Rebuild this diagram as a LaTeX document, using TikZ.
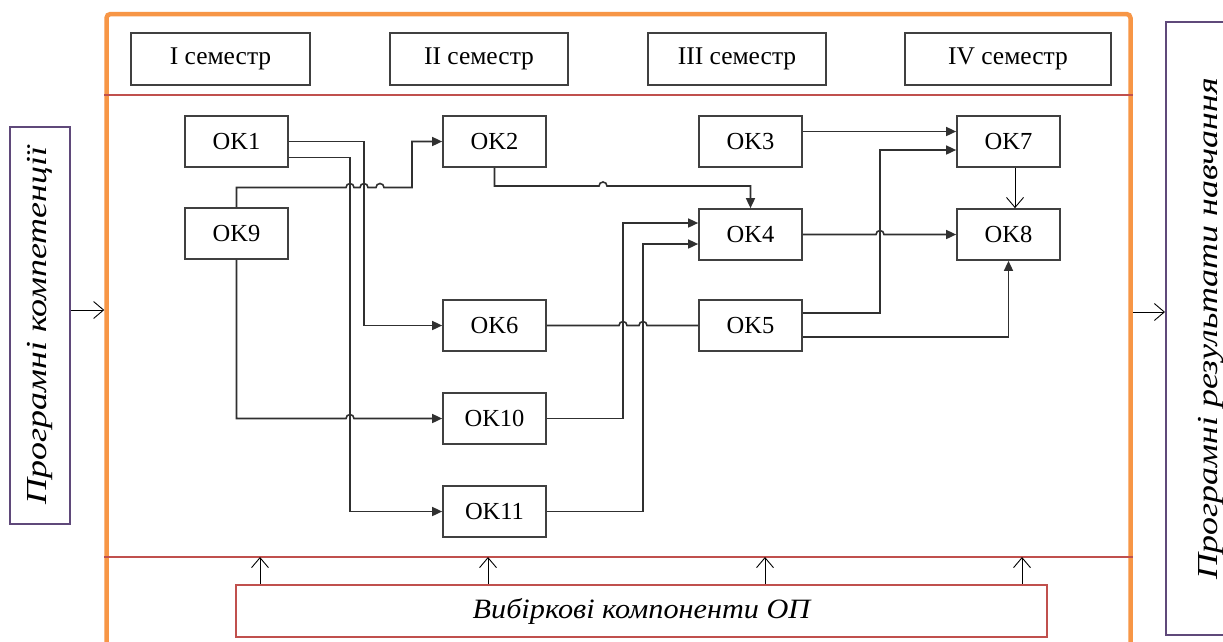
\documentclass[tikz,border=0pt]{standalone}
\usepackage{graphicx}
\usepackage{fontspec}
\setmainfont{Liberation Serif}
\usetikzlibrary{arrows.meta}
\definecolor{frameorange}{HTML}{F79646}
\definecolor{lineredc}{HTML}{C0504D}
\definecolor{boxredc}{HTML}{C0504D}
\definecolor{purplec}{HTML}{5F497A}
\definecolor{boxgray}{HTML}{404040}
\definecolor{linegray}{HTML}{303030}
\tikzset{
  okbox/.style={draw=boxgray, line width=1.7pt, minimum width=103pt, minimum height=51pt, inner sep=0pt, font=\fontsize{24.5}{28}\selectfont},
  sembox/.style={draw=boxgray, line width=1.7pt, minimum width=178pt, minimum height=52pt, inner sep=0pt, font=\fontsize{25.5}{28}\selectfont},
  conn/.style={draw=linegray, line width=1.6pt},
  arr/.style={conn, -{Triangle[length=10pt,width=9pt]}},
  oarr/.style={draw=black, line width=0.9pt, -{Straight Barb[length=10pt,width=17pt]}},
  purplebox/.style={draw=purplec, line width=2pt, inner sep=0pt, font=\fontsize{29}{32}\selectfont\itshape},
  redline/.style={draw=lineredc, line width=1.1pt}
}
\begin{document}
\begin{tikzpicture}[x=1pt,y=-1pt]
\useasboundingbox (0,0) rectangle (1223,641);
\fill[white] (0,0) rectangle (1223,641);
% outer orange frame
\node[draw=frameorange, line width=4.5pt, rounded corners=4pt, minimum width=1024pt, minimum height=660pt, inner sep=0pt] (frame) at (618.5,344) {};
\draw[redline] (frame.west |- 0,95) -- (frame.east |- 0,95);
\draw[redline] (frame.west |- 0,557) -- (frame.east |- 0,557);
% semesters
\node[sembox, minimum width=179pt] (s1) at (220.5,59) {I семестр};
\node[sembox] (s2) at (479,59) {II семестр};
\node[sembox] (s3) at (737,59) {III семестр};
\node[sembox, minimum width=206pt] (s4) at (1008,59) {IV семестр};
% OK boxes
\node[okbox] (ok1) at (236.5,141.5) {OK1};
\node[okbox] (ok9) at (236.5,233.5) {OK9};
\node[okbox] (ok2) at (494.5,141.5) {OK2};
\node[okbox] (ok3) at (750.5,141.5) {OK3};
\node[okbox] (ok7) at (1008.5,141.5) {OK7};
\node[okbox] (ok4) at (750.5,234.5) {OK4};
\node[okbox] (ok8) at (1008.5,234.5) {OK8};
\node[okbox] (ok6) at (494.5,325.5) {OK6};
\node[okbox] (ok5) at (750.5,325.5) {OK5};
\node[okbox] (ok10) at (494.5,418.5) {OK10};
\node[okbox] (ok11) at (494.5,511.5) {OK11};
% connectors
\draw[arr] (ok1.east) -- (364,141.5) -- (364,325.5) -- (ok6.west);
\draw[arr] ([yshift=-16pt]ok1.east) -- (350,157.5) -- (350,511.5) -- (ok11.west);
\draw[arr] (ok9.north) -- (236.5,187.5) -- (346,187.5) arc[start angle=180,end angle=0,radius=4pt]
  -- (360,187.5) arc[start angle=180,end angle=0,radius=4pt]
  -- (376,187.5) arc[start angle=180,end angle=0,radius=4pt]
  -- (412,187.5) -- (412,141.5) -- (ok2.west);
\draw[arr] (ok9.south) -- (236.5,418.5) -- (346,418.5) arc[start angle=180,end angle=0,radius=4pt] -- (ok10.west);
\draw[arr] (ok2.south) -- (494.5,186) -- (599,186) arc[start angle=180,end angle=0,radius=4pt] -- (750.5,186) -- (ok4.north);
\draw[arr] ([yshift=10pt]ok3.east) -- ([yshift=10pt]ok7.west);
\draw[arr] ([yshift=12.5pt]ok5.east) -- (880,313) -- (880,150) -- ([yshift=-8.5pt]ok7.west);
\draw[arr] (ok4.east) -- (876,234.5) arc[start angle=180,end angle=0,radius=4pt] -- (ok8.west);
\draw[arr] ([yshift=-11.5pt]ok5.east) -| (ok8.south);
\draw[oarr] ([xshift=6.5pt]ok7.south) -- ([xshift=6.5pt]ok8.north);
\draw[conn] (ok6.east) -- (619,325.5) arc[start angle=180,end angle=0,radius=4pt]
  -- (639,325.5) arc[start angle=180,end angle=0,radius=4pt] -- (ok5.west);
\draw[arr] (ok10.east) -- (623,418.5) -- (623,223) -- ([yshift=11.5pt]ok4.west);
\draw[arr] (ok11.east) -- (643,511.5) -- (643,244) -- ([yshift=-9.5pt]ok4.west);
% side boxes
\node[purplebox, rotate=90, minimum width=397pt, minimum height=60pt] (lbox) at (40,325.5) {\scalebox{1.24}[1]{Програмні компетенції}};
\node[purplebox, rotate=90, minimum width=613pt, minimum height=90pt] (rbox) at (1211,328.5) {\scalebox{1.24}[1]{Програмні результати навчання}};
\draw[oarr] (lbox.south |- 0,310) -- (frame.west |- 0,310);
\draw[oarr] (frame.east |- 0,312) -- (rbox.north |- 0,312);
% bottom box
\node[draw=boxredc, line width=2.5pt, minimum width=811pt, minimum height=52pt, inner sep=0pt, font=\fontsize{28}{32}\selectfont\itshape] (bot) at (641.5,611) {\scalebox{1.08}[1]{Вибіркові компоненти ОП}};
\coordinate (e1) at (260,557);
\coordinate (e2) at (488,557);
\coordinate (e3) at (765,557);
\coordinate (e4) at (1022,557);
\draw[oarr] (bot.north -| e1) -- (e1);
\draw[oarr] (bot.north -| e2) -- (e2);
\draw[oarr] (bot.north -| e3) -- (e3);
\draw[oarr] (bot.north -| e4) -- (e4);
\end{tikzpicture}
\end{document}
